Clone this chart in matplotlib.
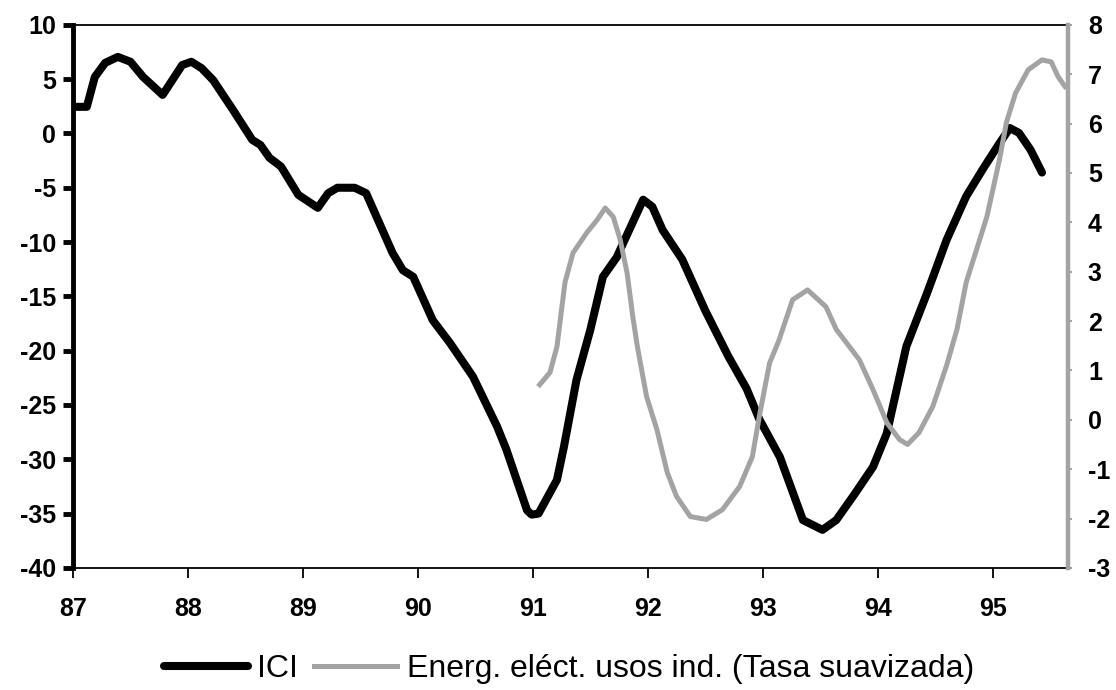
import matplotlib.pyplot as plt
from matplotlib.lines import Line2D

# ICI (eje izquierdo)
ici_x = [87.0, 87.12, 87.19, 87.28, 87.39, 87.5, 87.61, 87.78, 87.95, 88.03, 88.12, 88.22,
         88.39, 88.56, 88.63, 88.71, 88.81, 88.96, 89.13, 89.22, 89.30, 89.45, 89.55, 89.78,
         89.87, 89.96, 90.13, 90.28, 90.48, 90.69, 90.77, 90.95, 90.99, 91.05, 91.21, 91.27,
         91.38, 91.5, 91.61, 91.73, 91.96, 92.04, 92.13, 92.30, 92.5, 92.7, 92.86, 92.97,
         93.15, 93.35, 93.52, 93.64, 93.80, 93.96, 94.08, 94.25, 94.43, 94.60, 94.77, 94.92,
         95.06, 95.15, 95.23, 95.33, 95.43]
ici_y = [2.45, 2.45, 5.2, 6.5, 7.05, 6.6, 5.2, 3.55, 6.3, 6.6, 6.0, 4.9,
         2.2, -0.6, -1.05, -2.25, -3.05, -5.65, -6.85, -5.5, -5.0, -5.0, -5.5, -11.0,
         -12.6, -13.2, -17.2, -19.3, -22.4, -27.0, -29.1, -34.7, -35.1, -35.0, -31.9, -28.9,
         -22.7, -18.1, -13.2, -11.4, -6.1, -6.75, -8.9, -11.6, -16.3, -20.5, -23.5, -26.3,
         -29.8, -35.6, -36.5, -35.6, -33.2, -30.7, -27.6, -19.6, -14.7, -9.8, -5.8, -3.2,
         -0.9, 0.5, 0.05, -1.5, -3.6]

# Energía eléctrica usos industriales (eje derecho)
ene_x = [91.06, 91.15, 91.21, 91.28, 91.35, 91.47, 91.56, 91.63, 91.70, 91.76, 91.82, 91.87,
         91.91, 91.99, 92.08, 92.17, 92.25, 92.37, 92.51, 92.65, 92.80, 92.91, 92.97, 93.06,
         93.14, 93.26, 93.39, 93.55, 93.64, 93.84, 93.96, 94.08, 94.19, 94.26, 94.36, 94.48,
         94.60, 94.69, 94.77, 94.95, 95.06, 95.12, 95.20, 95.31, 95.43, 95.51, 95.57, 95.63]
ene_y = [0.71, 0.96, 1.48, 2.78, 3.38, 3.79, 4.05, 4.29, 4.11, 3.65, 2.98, 2.09,
         1.48, 0.47, -0.2, -1.07, -1.55, -1.96, -2.02, -1.82, -1.35, -0.75, 0.06, 1.15,
         1.6, 2.43, 2.63, 2.29, 1.83, 1.22, 0.61, -0.06, -0.40, -0.5, -0.26, 0.27,
         1.1, 1.83, 2.78, 4.11, 5.27, 6.02, 6.62, 7.09, 7.29, 7.25, 6.95, 6.75]

xticks = [87, 88, 89, 90, 91, 92, 93, 94, 95]
gray = '#a3a3a3'

plt.rcParams['font.family'] = ['Liberation Sans', 'DejaVu Sans']
plt.rcParams['axes.unicode_minus'] = False

fig = plt.figure(figsize=(11.16, 6.9), dpi=100)
ax = fig.add_axes([0.0654, 0.177, 0.892, 0.787])
ax2 = ax.twinx()

ax.plot(ici_x, ici_y, color='black', lw=5.8, solid_capstyle='round', solid_joinstyle='round')
ax2.plot(ene_x, ene_y, color=gray, lw=3.6, solid_joinstyle='round')

ax.set_xlim(87, 95.66)
ax.set_ylim(-40, 10)
ax2.set_ylim(-3, 8)
ax.set_yticks(range(-40, 11, 5))
ax2.set_yticks(range(-3, 9))
ax.set_xticks(xticks)
ax.set_xticklabels([str(t) for t in xticks])

for a in (ax, ax2):
    for s in a.spines.values():
        s.set_visible(False)
ax.spines['left'].set_visible(True)
ax.spines['left'].set_linewidth(3.5)
ax.spines['bottom'].set_visible(True)
ax.spines['bottom'].set_linewidth(1.3)
ax.spines['top'].set_visible(True)
ax.spines['top'].set_linewidth(1.3)
ax2.spines['right'].set_visible(True)
ax2.spines['right'].set_color(gray)
ax2.spines['right'].set_linewidth(3.2)

ax.tick_params(axis='y', direction='out', length=7, width=3.5, pad=5,
               labelsize=18)
ax.tick_params(axis='x', direction='out', length=7, width=1.3, pad=14,
               labelsize=18)
ax2.tick_params(axis='y', direction='out', length=3, width=1.5, color=gray,
                pad=11, labelsize=18)
for lbl in ax.get_xticklabels() + ax.get_yticklabels() + ax2.get_yticklabels():
    lbl.set_fontweight('bold')

handles = [Line2D([], [], color='black', lw=5.8, solid_capstyle='round'),
           Line2D([], [], color=gray, lw=3.6)]
fig.legend(handles, ['ICI', 'Energ. eléct. usos ind. (Tasa suavizada)'],
           loc='center', bbox_to_anchor=(0.51, 0.03), ncol=2, frameon=False,
           fontsize=23, handlelength=2.6, handletextpad=0.3, columnspacing=0.5)

fig.savefig('out.png', dpi=100)
